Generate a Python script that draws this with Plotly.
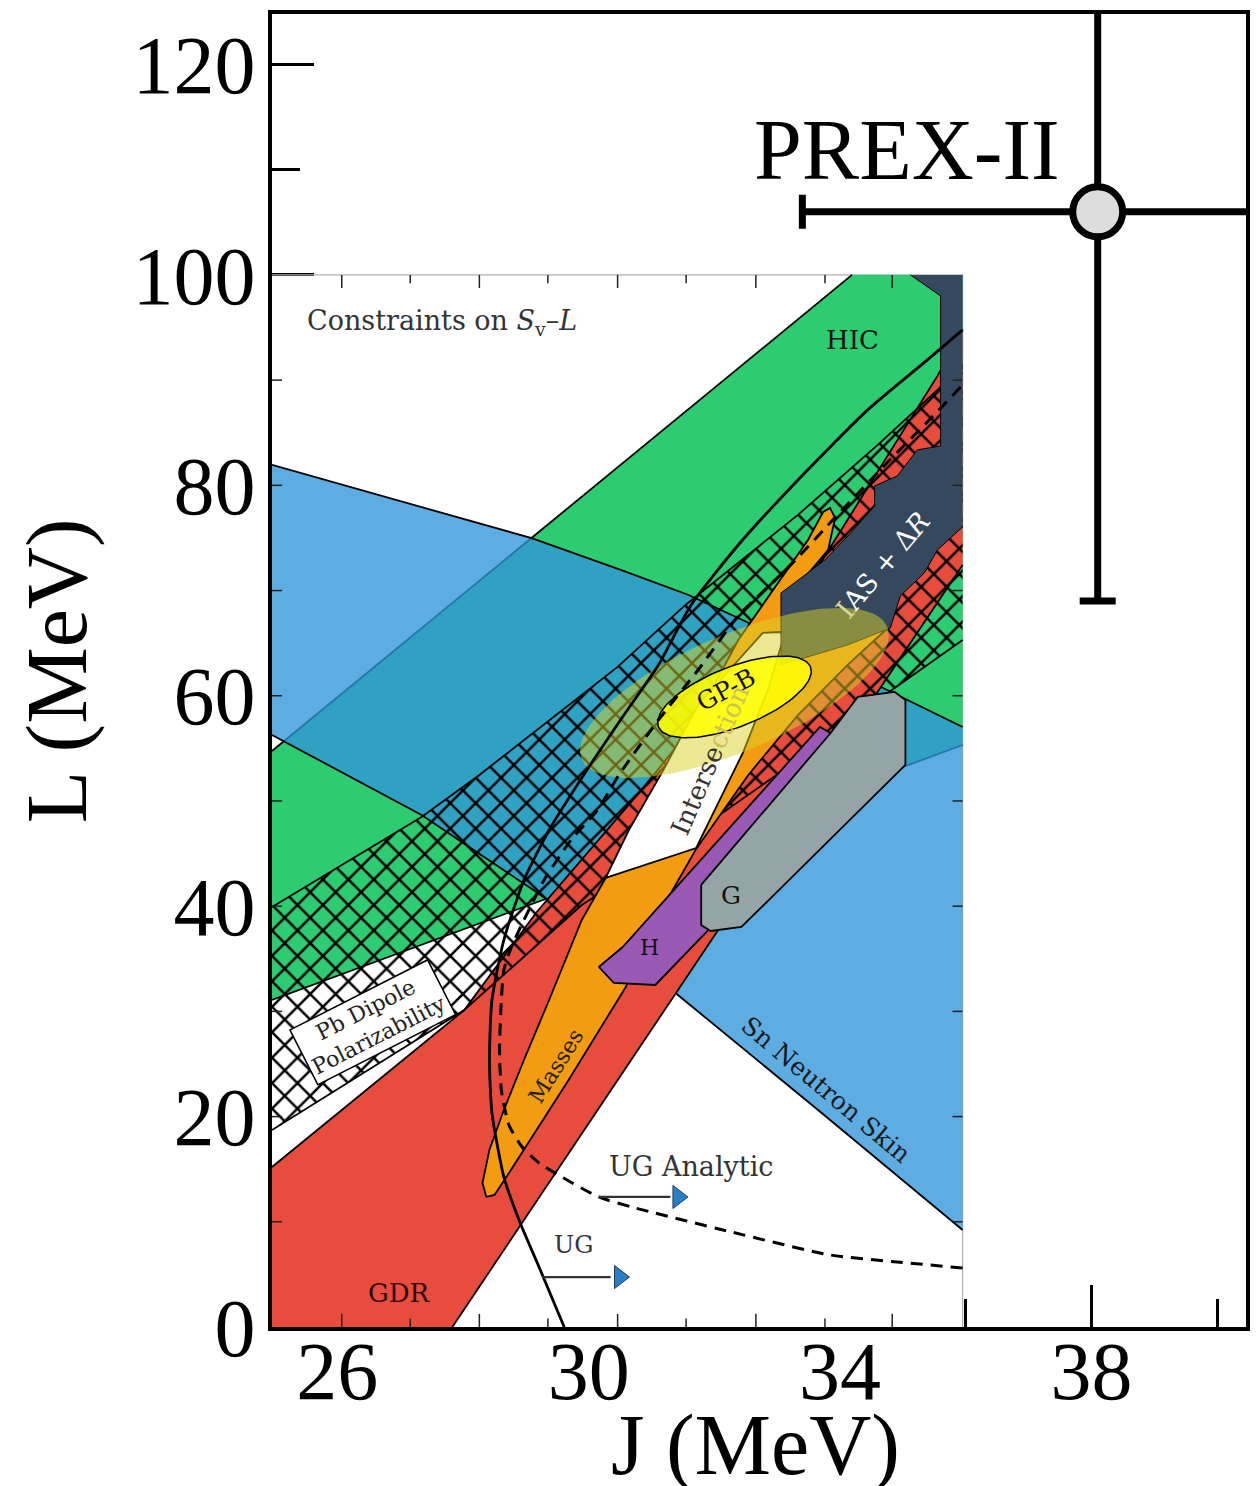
import numpy as np
import plotly.graph_objects as go

# ---------------- data (J in MeV, L in MeV) ----------------
INNER_J = [24.96, 35.95]
INNER_L = [0.0, 100.0]

hic_J = [24.96, 34.19, 35.95, 35.95, 24.96]
hic_L = [54.75, 100.0, 100.0, 55.32, 31.08]

sn_J = [24.96, 29.08, 30.51, 31.59, 33.06, 34.64, 35.95, 35.95, 33.65, 31.38, 29.19, 27.34, 24.96]
sn_L = [81.94, 75.00, 71.96, 69.58, 65.49, 60.84, 57.03, 9.22, 20.63, 31.75, 41.25, 48.67, 56.27]

gdr_J = [24.96, 26.67, 28.02, 29.16, 30.84, 32.38, 33.69, 35.55, 35.95, 35.95, 27.83, 24.96]
gdr_L = [15.21, 23.57, 30.13, 39.35, 51.05, 62.45, 72.62, 90.40, 94.77, 72.43, 0.0, 0.0]

pb_J = [24.96, 27.34, 28.26, 30.46, 31.54, 32.38, 33.33, 34.60, 35.55, 35.95,
        35.95, 34.60, 33.33, 31.74, 29.89, 28.02, 24.96]
pb_L = [39.92, 48.48, 52.47, 62.74, 68.63, 72.62, 77.19, 83.84, 89.07, 91.44,
        65.30, 59.60, 53.90, 47.24, 40.11, 30.13, 18.73]

mass_J = [28.37, 28.31, 28.42, 28.65, 28.97, 29.37, 29.89, 30.48, 31.11, 31.74, 32.38, 32.93,
          33.49, 33.73, 33.84, 33.92, 33.81, 33.41, 33.09, 34.76, 34.12, 33.33, 32.54, 31.70,
          31.11, 30.59, 29.68, 28.69, 28.50]
mass_L = [12.36, 13.69, 16.83, 20.63, 25.38, 31.08, 38.69, 44.87, 51.52, 58.17, 65.30, 70.06,
          74.81, 77.47, 77.85, 76.90, 73.86, 71.01, 69.30, 66.44, 62.93, 58.17, 52.47, 45.34,
          39.16, 32.32, 23.48, 14.26, 12.55]

int_J = [30.27, 31.71, 32.46, 32.85, 33.09, 33.06, 32.77, 32.38, 31.74, 31.19, 30.64]
int_L = [42.68, 45.53, 54.66, 60.55, 65.30, 66.06, 65.97, 63.40, 59.13, 52.95, 47.24]

h_J = [30.16, 30.40, 31.06, 31.86, 33.96, 33.96, 33.68, 30.54]
h_L = [34.22, 32.70, 32.51, 37.45, 51.52, 56.08, 57.03, 36.12]

g_J = [31.79, 31.79, 31.94, 32.43, 35.04, 35.04, 34.87, 34.28, 33.85]
g_L = [42.02, 38.21, 37.64, 38.02, 53.42, 59.60, 60.36, 59.89, 56.46]

ias_J = [35.12, 35.95, 35.95, 35.55, 35.34, 34.96, 34.80, 34.12, 33.06, 33.06,
         33.76, 34.17, 34.55, 34.55, 34.91, 35.23, 35.60, 35.60]
ias_L = [100.0, 100.0, 76.05, 73.86, 71.67, 69.49, 66.44, 64.83, 62.93, 69.77,
         72.91, 75.48, 78.04, 79.94, 80.89, 83.37, 83.75, 98.00]

# ellipses: centre, half-axis vectors (data units)
olive_c = (32.32, 60.27); olive_a = (2.43, 6.30); olive_b = (0.365, -5.06)
gpb_c = (32.32, 59.89); gpb_a = (1.21, 2.84); gpb_b = (0.173, -2.65)

ug_J = [29.61, 29.21, 28.89, 28.65, 28.46, 28.42, 28.46, 28.65, 28.97, 29.37, 29.92,
        30.56, 31.11, 31.63, 32.38, 33.33, 34.44, 35.39, 35.95]
ug_L = [0.0, 5.70, 10.17, 14.26, 20.34, 25.38, 31.08, 36.79, 42.49, 47.24, 52.47,
        58.17, 62.93, 68.63, 74.33, 80.51, 87.17, 91.92, 94.77]

uga_J = [35.95, 34.91, 33.85, 32.27, 30.68, 30.16, 29.57, 29.21, 28.94, 28.73, 28.61, 28.58,
         28.61, 28.65, 28.77, 28.97, 29.29, 29.72, 30.14, 30.48, 31.11, 31.74, 32.38, 33.17,
         33.96, 34.76, 35.39, 35.95]
uga_L = [5.61, 6.18, 6.84, 9.03, 11.41, 12.36, 14.26, 15.59, 17.11, 19.20, 22.53, 26.33,
         31.08, 33.94, 36.12, 38.69, 42.49, 46.29, 49.14, 52.47, 57.70, 62.45, 67.59, 72.15,
         77.19, 82.22, 86.03, 89.54]

arrow_uga = dict(J=[30.16, 31.30], L=12.36, head=31.42)
arrow_ug = dict(J=[29.26, 30.35], L=4.75, head=30.49)

inner_xticks = [26.07, 27.16, 28.26, 29.35, 30.46, 31.55, 32.66, 33.76, 34.83]
inner_yticks = [10, 20, 30, 40, 50, 60, 70, 80, 90]

prex_J, prex_dJ = 38.1, 4.7
prex_L, prex_dL = 106.0, 37.0

x_major = [26, 30, 34, 38]
x_minor = [28, 32, 36, 40]
y_major = [0, 20, 40, 60, 80, 100, 120]
y_minor = [10, 30, 50, 70, 90, 110]

# ---------------- styles ----------------
SERIF = "Liberation Serif"
ISERIF = "DejaVu Serif"
GREEN = "#2ECC71"
BLUE_A = "rgba(47,150,218,0.78)"
RED = "#E74C3C"
ORANGE = "#F39C12"
PURPLE = "#9B59B6"
GRAY = "#95A5A6"
NAVY = "#34495E"
OLIVE_A = "rgba(220,210,40,0.5)"
YELLOW_A = "rgba(255,255,0,0.85)"

fig = go.Figure()


def outline(J, L):
    xs, ys = [], []
    n = len(J)
    for i in range(n):
        j0, l0 = J[i], L[i]
        j1, l1 = J[(i + 1) % n], L[(i + 1) % n]
        edge = ((j0 >= INNER_J[1] - 0.01 and j1 >= INNER_J[1] - 0.01) or
                (l0 >= INNER_L[1] - 0.01 and l1 >= INNER_L[1] - 0.01) or
                (l0 <= INNER_L[0] + 0.01 and l1 <= INNER_L[0] + 0.01) or
                (j0 <= INNER_J[0] + 0.01 and j1 <= INNER_J[0] + 0.01))
        if edge:
            xs.append(None); ys.append(None)
            continue
        if not xs or xs[-1] is None:
            xs.append(j0); ys.append(l0)
        xs.append(j1); ys.append(l1)
    return xs, ys


def region(J, L, color, line=True, lw=1.8, pattern=None):
    kw = {}
    if pattern:
        kw["fillpattern"] = pattern
    fig.add_trace(go.Scatter(x=J + [J[0]], y=L + [L[0]], mode="lines", fill="toself",
                             fillcolor=color, line=dict(width=0), hoverinfo="skip", **kw))
    if line:
        xs, ys = outline(J, L)
        fig.add_trace(go.Scatter(x=xs, y=ys, mode="lines",
                                 line=dict(color="black", width=lw), hoverinfo="skip"))


def ellipse(c, a, b, n=120):
    t = np.linspace(0, 2 * np.pi, n)
    return (list(c[0] + a[0] * np.cos(t) + b[0] * np.sin(t)),
            list(c[1] + a[1] * np.cos(t) + b[1] * np.sin(t)))


# inner figure background (hides main ticks below it)
fig.add_trace(go.Scatter(x=[INNER_J[0], INNER_J[1], INNER_J[1], INNER_J[0], INNER_J[0]],
                         y=[INNER_L[0], INNER_L[0], INNER_L[1] - 0.15, INNER_L[1] - 0.15, INNER_L[0]],
                         mode="lines", fill="toself", fillcolor="white",
                         line=dict(width=0), hoverinfo="skip"))
fig.add_trace(go.Scatter(x=[INNER_J[0], INNER_J[1], INNER_J[1]],
                         y=[INNER_L[1], INNER_L[1], INNER_L[0]], mode="lines",
                         line=dict(color="#b0b0b0", width=1.2), hoverinfo="skip"))

region(hic_J, hic_L, GREEN)
region(sn_J, sn_L, BLUE_A)
region(gdr_J, gdr_L, RED)
region(pb_J, pb_L, "rgba(0,0,0,0)",
       pattern=dict(shape="x", fgcolor="black", bgcolor="rgba(0,0,0,0)",
                    size=18, solidity=0.26, fillmode="replace"))
region(mass_J, mass_L, ORANGE)
region(int_J, int_L, "white")
region(h_J, h_L, PURPLE)
region(g_J, g_L, GRAY)
region(ias_J, ias_L, NAVY, lw=1.0)

ex, ey = ellipse(olive_c, olive_a, olive_b)
fig.add_trace(go.Scatter(x=ex, y=ey, mode="lines", fill="toself", fillcolor=OLIVE_A,
                         line=dict(width=0), hoverinfo="skip"))
ex, ey = ellipse(gpb_c, gpb_a, gpb_b)
fig.add_trace(go.Scatter(x=ex, y=ey, mode="lines", fill="toself", fillcolor=YELLOW_A,
                         line=dict(width=1.5, color="black"), hoverinfo="skip"))

# unitary gas constraints
fig.add_trace(go.Scatter(x=ug_J, y=ug_L, mode="lines", line=dict(color="black", width=2.8,
                         shape="spline", smoothing=0.6), hoverinfo="skip"))
fig.add_trace(go.Scatter(x=uga_J, y=uga_L, mode="lines", line=dict(color="black", width=3,
                         dash="12px,8px", shape="spline", smoothing=0.6), hoverinfo="skip"))

for arr in (arrow_uga, arrow_ug):
    fig.add_trace(go.Scatter(x=arr["J"], y=[arr["L"]] * 2, mode="lines",
                             line=dict(color="#333333", width=2.2), hoverinfo="skip"))
    fig.add_trace(go.Scatter(x=[arr["head"]], y=[arr["L"]], mode="markers",
                             marker=dict(symbol="triangle-right", size=20, color="#2a7fc4",
                                         line=dict(color="#1a3f60", width=1)),
                             hoverinfo="skip"))

# inner-figure tick marks
tx, ty = [], []
for i, j in enumerate(inner_xticks):
    ln = 1.25 if i % 2 == 0 else 0.8
    tx += [j, j, None, j, j, None]
    ty += [INNER_L[1], INNER_L[1] - ln, None, INNER_L[0], INNER_L[0] + ln, None]
for l in inner_yticks:
    tx += [INNER_J[0], INNER_J[0] + 0.16, None, INNER_J[1], INNER_J[1] - 0.16, None]
    ty += [l, l, None, l, l, None]
fig.add_trace(go.Scatter(x=tx, y=ty, mode="lines", line=dict(color="#222222", width=1.5),
                         hoverinfo="skip"))

# PREX-II
fig.add_trace(go.Scatter(x=[prex_J], y=[prex_L], mode="markers",
                         marker=dict(symbol="circle", size=50, color="#dcdcdc",
                                     line=dict(color="black", width=7)),
                         error_x=dict(type="data", array=[prex_dJ], color="black",
                                      thickness=7, width=17),
                         error_y=dict(type="data", array=[prex_dL], color="black",
                                      thickness=7, width=18),
                         hoverinfo="skip"))

# ---------------- annotations ----------------
ann = []


def txt(x, y, s, size, color="#222222", angle=0, family=ISERIF, **kw):
    ann.append(dict(x=x, y=y, xref="x", yref="y", text=s, showarrow=False,
                    textangle=angle, font=dict(family=family, size=size, color=color),
                    xanchor="center", yanchor="middle", **kw))


txt(35.07, 111.9, "PREX-II", 86, "black", family=SERIF)
txt(27.67, 95.44, "Constraints on <i>S</i><sub>v</sub>\u2013<i>L</i>", 27, "#333333")
txt(34.20, 93.82, "HIC", 26, "#111111")
txt(34.69, 72.43, "<span style='color:#d8d890'>I</span>AS + \u0394<i>R</i>", 27, "white", angle=-50)
txt(32.19, 60.55, "GP-B", 25, "#111111", angle=-28)
txt(31.93, 53.9, "Interse<span style='color:#c9c25a'>ction</span>", 26, "#333333", angle=-67)
txt(29.49, 24.81, "Masses", 22, "#222222", angle=-58)
txt(30.97, 36.03, "H", 22, "#111111")
txt(32.27, 41.06, "G", 25, "#111111")
txt(26.56, 28.90, "Pb Dipole<br>Polarizability", 22, "#222222", angle=-27,
    bgcolor="white", bordercolor="black", borderwidth=1.5, borderpad=3)
txt(33.77, 22.53, "Sn Neutron Skin", 25, "#1a1a1a", angle=40)
txt(31.63, 15.21, "UG Analytic", 27, "#333333")
txt(29.76, 7.79, "UG", 24, "#333333")
txt(26.99, 3.23, "GDR", 26, "#2a0a0a")

ann.append(dict(x=-0.221, y=0.50, xref="paper", yref="paper", text="L (MeV)",
                showarrow=False, textangle=-90, xanchor="center", yanchor="middle",
                font=dict(family=SERIF, size=86, color="black")))
ann.append(dict(x=0.496, y=-0.090, xref="paper", yref="paper", text="J (MeV)",
                showarrow=False, xanchor="center", yanchor="middle",
                font=dict(family=SERIF, size=86, color="black")))

axis_common = dict(showgrid=False, zeroline=False, showline=True, linecolor="black",
                   linewidth=4, mirror=True, ticks="inside", tickcolor="black",
                   tickwidth=3, ticklen=42, layer="below traces",
                   tickfont=dict(family=SERIF, size=82, color="black"))

fig.update_layout(
    width=1260, height=1486,
    margin=dict(l=272, r=10, t=14, b=159),
    plot_bgcolor="white", paper_bgcolor="white",
    showlegend=False,
    annotations=ann,
    xaxis=dict(range=[24.96, 40.46], tickvals=x_major, ticktext=[str(v) for v in x_major],
               ticklabelstandoff=-30,
               minor=dict(tickvals=x_minor, ticks="inside", ticklen=28, tickwidth=3,
                          tickcolor="black", showgrid=False),
               **axis_common),
    yaxis=dict(range=[0, 124.8], tickvals=y_major, ticktext=[str(v) for v in y_major],
               ticklabelstandoff=-4,
               minor=dict(tickvals=y_minor, ticks="inside", ticklen=28, tickwidth=3,
                          tickcolor="black", showgrid=False),
               **axis_common),
)

fig.write_html("out.html")
